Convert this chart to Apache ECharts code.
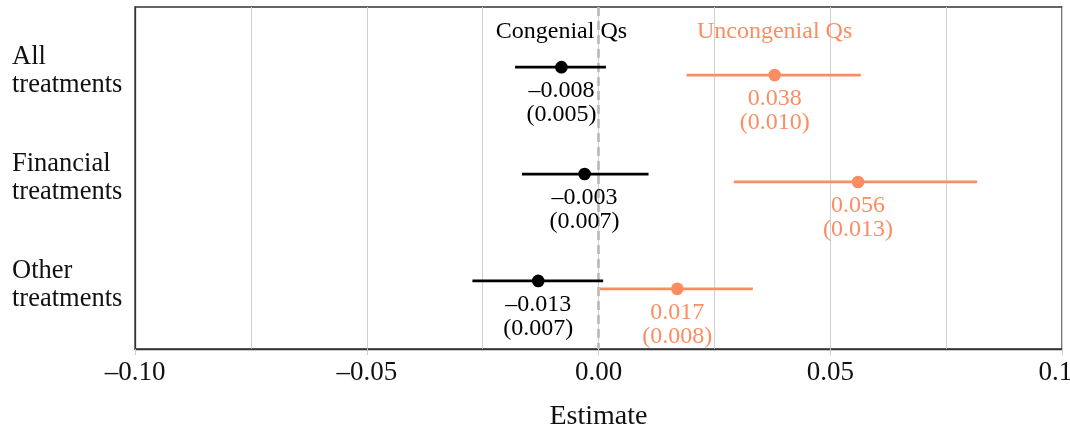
<!DOCTYPE html>
<html>
<head>
<meta charset="utf-8">
<script src="https://cdn.jsdelivr.net/npm/echarts@6/dist/echarts.min.js"></script>
<style>html,body{margin:0;padding:0;background:#fff}#c{width:1070px;height:431px}</style>
</head>
<body>
<div id="c"></div>
<script>
const rowNames = ['All\ntreatments', 'Financial\ntreatments', 'Other\ntreatments'];
const groupNames = ['Congenial Qs', 'Uncongenial Qs'];
const congEst = [-0.008, -0.003, -0.013];
const congSE = [0.005, 0.007, 0.007];
const congLo = [-0.018, -0.0165, -0.0272];
const congHi = [0.0016, 0.0108, 0.001];
const uncEst = [0.038, 0.056, 0.017];
const uncSE = [0.010, 0.013, 0.008];
const uncLo = [0.019, 0.0292, 0.0003];
const uncHi = [0.0566, 0.0817, 0.0333];
const refLine = 0;

const FONT = 'Liberation Serif, Times New Roman, serif';
const colors = ['#000000', '#FC8D62'];
const offsets = [-0.037, 0.037];

function fmt(v) {
  const s = Math.abs(v).toFixed(3);
  return (v < 0 ? '\u2013' : '') + s;
}

function build(est, se, lo, hi) {
  return est.map((e, i) => [e, lo[i], hi[i], i, se[i]]);
}

function makeSeries(idx, data) {
  const color = colors[idx];
  const off = offsets[idx];
  return {
    type: 'custom',
    name: groupNames[idx],
    data: data,
    encode: { x: [0, 1, 2], y: 3 },
    z: 5,
    renderItem: function (params, api) {
      const y = api.value(3) + off;
      const p = api.coord([api.value(0), y]);
      const l = api.coord([api.value(1), y]);
      const h = api.coord([api.value(2), y]);
      const children = [
        { type: 'line', shape: { x1: l[0], y1: p[1], x2: h[0], y2: p[1] },
          style: { stroke: color, lineWidth: 2.7 } },
        { type: 'circle', shape: { cx: p[0], cy: p[1], r: 6.3 }, style: { fill: color } },
        { type: 'text', x: p[0], y: p[1] + 12,
          style: { text: fmt(api.value(0)) + '\n(' + api.value(4).toFixed(3) + ')',
            fill: color, font: '24px ' + FONT, align: 'center', verticalAlign: 'top', lineHeight: 24 } }
      ];
      if (api.value(3) === 0) {
        const t = api.coord([api.value(0), -0.37]);
        children.push({ type: 'text', x: t[0], y: t[1],
          style: { text: groupNames[idx], fill: color, font: '24px ' + FONT,
            align: 'center', verticalAlign: 'middle' } });
      }
      return { type: 'group', children: children };
    }
  };
}

const chart = echarts.init(document.getElementById('c'), null, { renderer: 'canvas' });
const refSeries = {
  type: 'line', data: [], z: 1, silent: true,
  markLine: {
    silent: true, symbol: 'none', label: { show: false },
    lineStyle: { color: '#b8b8b8', width: 2.6, type: [9, 5] },
    data: [{ xAxis: refLine }]
  }
};
chart.setOption({
  animation: false,
  backgroundColor: '#fff',
  textStyle: { fontFamily: FONT },
  grid: { left: 135, right: 8, top: 7, bottom: 82, containLabel: false, outerBoundsMode: 'none',
    show: true, borderColor: '#333', borderWidth: 1.3 },
  xAxis: {
    type: 'value', min: -0.1, max: 0.1, interval: 0.05,
    name: 'Estimate', nameLocation: 'middle', nameGap: 54,
    nameTextStyle: { fontSize: 28, color: '#111', fontFamily: FONT },
    axisLine: { show: true, onZero: false, lineStyle: { color: '#333', width: 1.3 } },
    axisTick: { show: true, length: 6, lineStyle: { color: '#cccccc' } },
    axisLabel: { margin: 10, fontSize: 27, color: '#111', fontFamily: FONT,
      formatter: v => (v < 0 ? '\u2013' : '') + Math.abs(v).toFixed(2) },
    splitLine: { show: true, lineStyle: { color: '#d0d0d0', width: 1 } },
    minorTick: { show: false, splitNumber: 2 },
    minorSplitLine: { show: true, lineStyle: { color: '#d0d0d0', width: 1 } }
  },
  yAxis: {
    type: 'value', inverse: true, min: -0.6, max: 2.6,
    axisLine: { show: true, onZero: false, lineStyle: { color: '#333', width: 1.3 } },
    axisTick: { show: false },
    splitLine: { show: false },
    axisLabel: { customValues: [0, 1, 2], align: 'left', margin: 123, fontSize: 26.5, lineHeight: 28,
      color: '#111', fontFamily: FONT, formatter: v => rowNames[Math.round(v)] }
  },
  series: [refSeries, makeSeries(0, build(congEst, congSE, congLo, congHi)),
    makeSeries(1, build(uncEst, uncSE, uncLo, uncHi))]
});
</script>
</body>
</html>
